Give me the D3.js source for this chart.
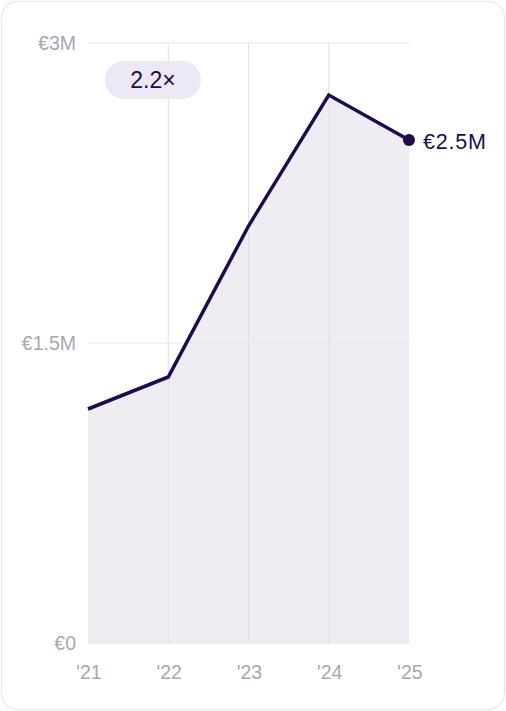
<!DOCTYPE html>
<html>
<head>
<meta charset="utf-8">
<script src="https://cdn.jsdelivr.net/npm/d3@7"></script>
<style>
  html, body { margin: 0; padding: 0; background: #fff; }
  body { width: 506px; height: 711px; overflow: hidden; font-family: "Liberation Sans", Arial, sans-serif; }
</style>
</head>
<body>
<svg id="chart" width="506" height="711"></svg>
<script>
const years = ["'21", "'22", "'23", "'24", "'25"];
const revenue = [1.17, 1.33, 2.085, 2.74, 2.515]; // € millions
const yTicks = [0, 1.5, 3];
const yTickLabels = ['€0', '€1.5M', '€3M'];
const growthLabel = '2.2×';
const lastLabel = '€2.5M';

const svg = d3.select('#chart');
const margin = { top: 43, right: 97, bottom: 68, left: 88 };
const width = 506;
const height = 711;

// card
svg.append('rect')
  .attr('x', 1.5).attr('y', 1.5)
  .attr('width', width - 3).attr('height', height - 3)
  .attr('rx', 16)
  .attr('fill', '#fff')
  .attr('stroke', '#ebeaef')
  .attr('stroke-width', 1.5);

const x = d3.scalePoint()
  .domain(years)
  .range([margin.left, width - margin.right]);

const y = d3.scaleLinear()
  .domain([0, 3])
  .range([height - margin.bottom, margin.top]);

const data = years.map((yr, i) => ({ yr, v: revenue[i] }));

// area
const area = d3.area()
  .x((d) => x(d.yr))
  .y0(y(0))
  .y1((d) => y(d.v));

svg.append('path')
  .datum(data)
  .attr('fill', '#efedf4')
  .attr('d', area);

// grid
svg.append('g')
  .selectAll('line')
  .data(yTicks)
  .enter()
  .append('line')
  .attr('x1', x(years[0]))
  .attr('x2', x(years[years.length - 1]))
  .attr('y1', (d) => y(d))
  .attr('y2', (d) => y(d))
  .attr('stroke', '#e6e4ec')
  .attr('stroke-width', 1);

svg.append('g')
  .selectAll('line')
  .data(years.slice(1, -1))
  .enter()
  .append('line')
  .attr('x1', (d) => x(d))
  .attr('x2', (d) => x(d))
  .attr('y1', y(3))
  .attr('y2', y(0))
  .attr('stroke', '#e0dee6')
  .attr('stroke-width', 1);

// y labels
svg.append('g')
  .selectAll('text')
  .data(yTicks)
  .enter()
  .append('text')
  .attr('x', margin.left - 12)
  .attr('y', (d) => y(d))
  .attr('dy', '0.35em')
  .attr('text-anchor', 'end')
  .attr('font-size', 19.5)
  .attr('fill', '#a9a6b5')
  .text((d, i) => yTickLabels[i]);

// x labels
svg.append('g')
  .selectAll('text')
  .data(years)
  .enter()
  .append('text')
  .attr('x', (d) => x(d) + 1)
  .attr('y', y(0) + 29)
  .attr('dy', '0.35em')
  .attr('text-anchor', 'middle')
  .attr('font-size', 19.5)
  .attr('fill', '#a9a6b5')
  .text((d) => d);

// line
const line = d3.line()
  .x((d) => x(d.yr))
  .y((d) => y(d.v));

svg.append('path')
  .datum(data)
  .attr('fill', 'none')
  .attr('stroke', '#1f0a4b')
  .attr('stroke-width', 3.5)
  .attr('stroke-linejoin', 'miter')
  .attr('d', line);

// last point
const last = data[data.length - 1];
svg.append('circle')
  .attr('cx', x(last.yr))
  .attr('cy', y(last.v))
  .attr('r', 6)
  .attr('fill', '#1f0a4b');

svg.append('text')
  .attr('x', x(last.yr) + 14)
  .attr('y', y(last.v) + 1)
  .attr('dy', '0.35em')
  .attr('font-size', 21.5)
  .attr('letter-spacing', 0.8)
  .attr('fill', '#1f0a4b')
  .text(lastLabel);

// growth badge
const badge = svg.append('g').attr('transform', 'translate(153,80)');
badge.append('rect')
  .attr('x', -48).attr('y', -19)
  .attr('width', 96).attr('height', 38)
  .attr('rx', 19)
  .attr('fill', '#ece8f5');
badge.append('text')
  .attr('text-anchor', 'middle')
  .attr('dy', '0.35em')
  .attr('font-size', 23)
  .attr('fill', '#1f0a4b')
  .text(growthLabel);
</script>
</body>
</html>
